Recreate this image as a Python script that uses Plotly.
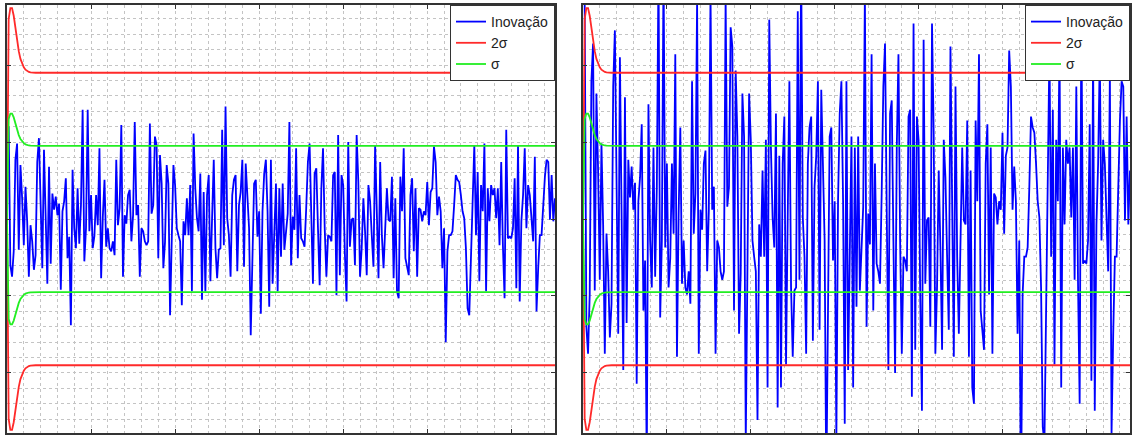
import plotly.graph_objects as go

# Innovation sequence of the nominal filter (left) and of the mistuned filter (right)
innov_left = [
    1.20, -0.60, -0.75, -0.42, 0.77, 0.98, -0.40, 0.70, 0.27, -0.34,
    0.42, -0.03, -0.75, -0.08, -0.29, -0.66, -0.47, 0.74, 1.05, -0.03,
    -0.64, 0.90, -0.21, -0.84, 0.68, -0.58, 0.33, 0.12, 0.29, 0.05,
    0.20,
    -0.92, 0.10, 0.23, 0.53, -0.51, -0.23, -1.38, 0.64, -0.12, -0.38,
    0.40, -0.32, 0.18, 1.42, -0.55, -0.12, 1.42, -0.16, 0.31, -0.38,
    -0.22,
    0.31, -0.08, 0.92, -0.77, 0.03, 0.51, -0.36, -0.12, -0.38, -0.42,
    -0.29, -0.47, 0.77, -0.08, 0.14, 1.22, -0.75, 0.05, -0.06, 0.31,
    0.38,
    -0.29, 0.05, 1.26, 0.05, 0.18, -0.75, -0.12, -0.16, -0.29, -0.34,
    -0.29, 1.24, 0.07, 0.18, 1.07, 0.96, -0.51, 0.83, 0.46, -0.64,
    -0.30,
    0.70, 0.46, -1.25, -0.12, 0.70, 0.44, -0.12, -0.21, -0.29, -1.12,
    -0.03, -0.21, 0.27,
    -0.21, 0.44, -0.94, 1.11, 0.40, 0.01, -0.16, 0.59, -1.05,
    0.35, -0.94, 0.31, 0.57, -0.81, 0.01, 0.77, -0.38, -0.77, -0.40,
    -0.38, 1.16, -0.34, 1.46, 0.01, -0.21, -0.75, 0.31, 0.51, 0.57,
    -0.68, 0.18, 0.35, 0.77, -0.62, 0.72, 0.18, -0.12, -1.51, -0.25,
    0.46, 0.51, -0.23, 0.10, -1.23, 0.10, 0.59, 0.77, 0.10, -1.14,
    0.77, -0.84, -0.01, 0.46, -0.94, 0.40, -0.49, 0.46, -0.40, -0.12,
    0.07, 1.26, -0.60, 0.03, -0.14, 0.92, -0.51, 0.31, -0.25, -0.29,
    -0.36, 0.14, 0.74, 0.98, -0.03, -0.84, 0.59, 0.66, -0.12, -0.86,
    0.40, 0.92, -0.12, -0.75, -0.21, -0.23, -0.29, 0.57, 0.61, -0.99,
    1.09, -0.73, 0.57, 0.44, -0.45, -1.07, 1.00, -0.36, -0.01, 0.01,
    -0.60, 1.09, 0.48, -0.75, -0.38, 0.27, -0.16, -0.73, 0.44, 0.23,
    -0.21, -0.62, 0.96, -0.03, -0.77, 0.74, -0.21, -0.64, 0.01,
    0.40, -0.01, -0.03, 0.55, -0.77, 0.27, -0.94, -1.03, 0.55, 0.10,
    0.92, -0.51, -0.62, -0.73, 0.31, 0.53, -0.42, 0.40, -0.75, 0.14,
    0.12, -0.03, 0.10, 0.05, 0.48, -0.08, 0.35, 0.40, 0.94, 0.74,
    0.05, 0.29, 0.10, -0.64, -0.12, -1.60, -0.42, -0.21, -0.21, -0.16,
    0.18, 0.57, 0.51, 0.48, 0.31, 0.10, 0.01, -0.38, -1.16, -1.25,
    -0.51, 0.42, 0.96, -0.21, 0.61, -0.81, 0.44, 0.10, 0.98, -0.94,
    0.40, -0.03, 0.44, 0.31, 0.40, 0.01, 0.40, -0.34, 0.74, -0.34,
    -1.03, 1.16, -0.25, -0.23, -0.25, -0.12, 0.53, -0.90, 0.96, -1.07,
    -0.03, 0.31, 0.92, -0.12, 0.44, 0.31, -0.03, -0.29, 0.81, -1.20,
    -0.64, -0.21, -0.21, 0.23, 0.55, 0.77, 0.74, -0.01, 0.57, -0.03,
    0.27,
]

innov_right = [
    2.80, -1.40, -1.75, -0.98, 1.79, 2.28, -0.93, 1.63, 0.63, -0.79,
    0.98, -0.07, -1.75, -0.19, -0.68, -1.54, -1.10, 1.72, 2.45, -0.07,
    -1.49, 2.10, -0.49, -1.96, 1.58, -1.35, 0.77, 0.28, 0.68, 0.12,
    0.47,
    -2.14, 0.23, 0.54, 1.23, -1.19, -0.54, -3.22, 1.49, -0.28, -0.89,
    0.93, -0.75, 0.42, 3.31, -1.28, -0.28, 3.31, -0.37, 0.72, -0.89,
    -0.51,
    0.72, -0.19, 2.14, -1.79, 0.07, 1.19, -0.84, -0.28, -0.89, -0.98,
    -0.68, -1.10, 1.79, -0.19, 0.33, 2.84, -1.75, 0.12, -0.14, 0.72,
    0.89,
    -0.68, 0.12, 2.94, 0.12, 0.42, -1.75, -0.28, -0.37, -0.68, -0.79,
    -0.68, 2.89, 0.16, 0.42, 2.49, 2.24, -1.19, 1.93, 1.07, -1.49,
    -0.70,
    1.63, 1.07, -2.91, -0.28, 1.63, 1.03, -0.28, -0.49, -0.68, -2.61,
    -0.07, -0.49, 0.63,
    -0.49, 1.03, -2.19, 2.59, 0.93, 0.02, -0.37, 1.37, -2.45,
    0.82, -2.19, 0.72, 1.33, -1.89, 0.02, 1.79, -0.89, -1.79, -0.93,
    -0.89, 2.70, -0.79, 3.40, 0.02, -0.49, -1.75, 0.72, 1.19, 1.33,
    -1.58, 0.42, 0.82, 1.79, -1.44, 1.68, 0.42, -0.28, -3.52, -0.58,
    1.07, 1.19, -0.54, 0.23, -2.87, 0.23, 1.37, 1.79, 0.23, -2.66,
    1.79, -1.96, -0.02, 1.07, -2.19, 0.93, -1.14, 1.07, -0.93, -0.28,
    0.16, 2.94, -1.40, 0.07, -0.33, 2.14, -1.19, 0.72, -0.58, -0.68,
    -0.84, 0.33, 1.72, 2.28, -0.07, -1.96, 1.37, 1.54, -0.28, -2.00,
    0.93, 2.14, -0.28, -1.75, -0.49, -0.54, -0.68, 1.33, 1.42, -2.31,
    2.54, -1.70, 1.33, 1.03, -1.05, -2.49, 2.33, -0.84, -0.02, 0.02,
    -1.40, 2.54, 1.12, -1.75, -0.89, 0.63, -0.37, -1.70, 1.03, 0.54,
    -0.49, -1.44, 2.24, -0.07, -1.79, 1.72, -0.49, -1.49, 0.02,
    0.93, -0.02, -0.07, 1.28, -1.79, 0.63, -2.19, -2.40, 1.28, 0.23,
    2.14, -1.19, -1.44, -1.70, 0.72, 1.23, -0.98, 0.93, -1.75, 0.33,
    0.28, -0.07, 0.23, 0.12, 1.12, -0.19, 0.82, 0.93, 2.19, 1.72,
    0.12, 0.68, 0.23, -1.49, -0.28, -3.73, -0.98, -0.49, -0.49, -0.37,
    0.42, 1.33, 1.19, 1.12, 0.72, 0.23, 0.02, -0.89, -2.70, -2.91,
    -1.19, 0.98, 2.24, -0.49, 1.42, -1.89, 1.03, 0.23, 2.28, -2.19,
    0.93, -0.07, 1.03, 0.72, 0.93, 0.02, 0.93, -0.79, 1.72, -0.79,
    -2.40, 2.70, -0.58, -0.54, -0.58, -0.28, 1.23, -2.10, 2.24, -2.49,
    -0.07, 0.72, 2.14, -0.28, 1.03, 0.72, -0.07, -0.68, 1.89, -2.80,
    -1.49, -0.49, -0.49, 0.54, 1.28, 1.79, 1.72, -0.02, 1.33, -0.07,
    0.63,
]

# Predicted innovation standard deviation: start-up transient, then steady state
sigma_transient = [0.0, 1.30, 1.37, 1.37, 1.32, 1.24, 1.16, 1.09, 1.04,
                   1.01, 0.985, 0.97, 0.96, 0.955, 0.952]
sigma_steady = 0.95

n_samples = len(innov_left)
k_innov = list(range(1, n_samples + 1))
sigma = sigma_transient + [sigma_steady] * (n_samples + 1 - len(sigma_transient))
k_sigma = list(range(0, n_samples + 1))
two_sigma = [2 * s for s in sigma]

legend_labels = ["Inovação", "2σ", "σ"]

BLUE = "#0000ff"
RED = "#ff2a2a"
GREEN = "#22ee22"
W = 1133
H = 437

fig = go.Figure()

panels = [
    ("x", "y", "legend", innov_left),
    ("x2", "y2", "legend2", innov_right),
]
for xa, ya, leg, innov in panels:
    fig.add_trace(go.Scatter(x=k_innov, y=innov, mode="lines", name=legend_labels[0],
                             line=dict(color=BLUE, width=1.8), xaxis=xa, yaxis=ya,
                             legend=leg))
    fig.add_trace(go.Scatter(x=k_sigma, y=two_sigma, mode="lines", name=legend_labels[1],
                             line=dict(color=RED, width=1.8), xaxis=xa, yaxis=ya,
                             legend=leg, legendgroup=leg + "2s"))
    fig.add_trace(go.Scatter(x=k_sigma, y=[-v for v in two_sigma], mode="lines",
                             showlegend=False, line=dict(color=RED, width=1.8),
                             xaxis=xa, yaxis=ya, legend=leg, legendgroup=leg + "2s"))
    fig.add_trace(go.Scatter(x=k_sigma, y=sigma, mode="lines", name=legend_labels[2],
                             line=dict(color=GREEN, width=1.8), xaxis=xa, yaxis=ya,
                             legend=leg, legendgroup=leg + "1s"))
    fig.add_trace(go.Scatter(x=k_sigma, y=[-v for v in sigma], mode="lines",
                             showlegend=False, line=dict(color=GREEN, width=1.8),
                             xaxis=xa, yaxis=ya, legend=leg, legendgroup=leg + "1s"))

GRID = "#c4c4c4"
FRAME = "#333333"


def x_axis(domain, anchor):
    return dict(domain=domain, anchor=anchor, range=[0, n_samples],
                tick0=0, dtick=50, ticks="inside", ticklen=4, tickcolor=FRAME,
                showticklabels=False, showline=True, linecolor=FRAME, linewidth=1.5,
                mirror="ticks", showgrid=True, gridcolor=GRID, griddash="dot",
                gridwidth=1, zeroline=False,
                minor=dict(tick0=0, dtick=10, showgrid=True, gridcolor=GRID,
                           griddash="dot", gridwidth=1, ticks=""))


def y_axis(anchor):
    return dict(domain=[4 / H, 1 - 5 / H], anchor=anchor, range=[-2.78, 2.78],
                tick0=0, dtick=1, ticks="inside", ticklen=4, tickcolor=FRAME,
                showticklabels=False, showline=True, linecolor=FRAME, linewidth=1.5,
                mirror="ticks", showgrid=True, gridcolor=GRID, griddash="dot",
                gridwidth=1, zeroline=False,
                minor=dict(tick0=0, dtick=0.2, showgrid=True, gridcolor=GRID,
                           griddash="dot", gridwidth=1, ticks=""))


left_dom = [7 / W, 555 / W]
right_dom = [583 / W, 1130 / W]


def legend_box(x_right):
    return dict(x=x_right, xanchor="right", y=1 - 5 / H, yanchor="top",
                bgcolor="white", bordercolor=FRAME, borderwidth=1,
                font=dict(family="Liberation Sans, Arial, sans-serif", size=14,
                          color="#222222"),
                tracegroupgap=0, itemwidth=30)


fig.update_layout(
    width=W, height=H,
    margin=dict(l=0, r=0, t=0, b=0),
    paper_bgcolor="white", plot_bgcolor="white",
    xaxis=x_axis(left_dom, "y"),
    yaxis=y_axis("x"),
    xaxis2=x_axis(right_dom, "y2"),
    yaxis2=y_axis("x2"),
    legend=legend_box(left_dom[1]),
    legend2=legend_box(right_dom[1]),
    showlegend=True,
)

fig.write_html("out.html")
